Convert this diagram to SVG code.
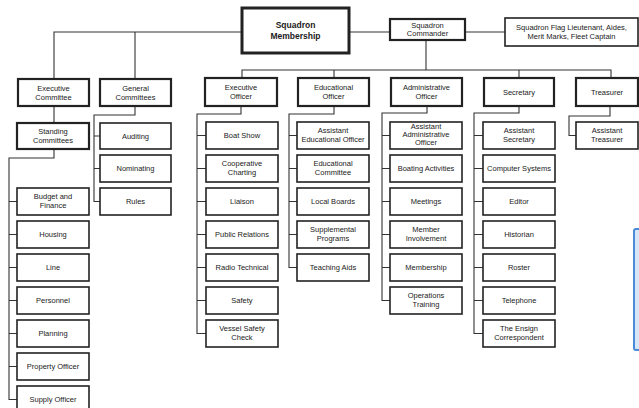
<svg xmlns="http://www.w3.org/2000/svg" width="639" height="408" viewBox="0 0 639 408">
<style>
.b{fill:#fff;stroke:#222;stroke-width:1.6}
.b2{fill:#fff;stroke:#222;stroke-width:2.2}
.t{font-family:"Liberation Sans",Arial,sans-serif;font-size:7.5px;fill:#1a1a1a;text-anchor:middle}
.tb{font-family:"Liberation Sans",Arial,sans-serif;font-size:8.5px;font-weight:bold;fill:#1a1a1a;text-anchor:middle}
.c{fill:none;stroke:#333;stroke-width:1.1}
</style>
<rect width="639" height="408" fill="#fff"/>
<g id="connectors">
<path class="c" d="M349,32H390M465,32H505M242,32H54V78M135,32V78M426,39V70M242,78V70H611V78M334,70V78M519,70V78"/>
<path class="c" d="M54,106V123M54,149V158H9V399.5H17M9,201.5H17M9,234.5H17M9,267.5H17M9,300.5H17M9,333.5H17M9,366.5H17"/>
<path class="c" d="M135,106V115H94V201.5H100M94,136H100M94,168.5H100"/>
<path class="c" d="M241,106V114H197V333.5H206M197,135.5H206M197,168.5H206M197,201.5H206M197,234.5H206M197,267.5H206M197,300.5H206"/>
<path class="c" d="M334,106V114H289V267.5H297M289,135.5H297M289,168.5H297M289,201.5H297M289,234.5H297"/>
<path class="c" d="M427,106V113H382V300.5H390M382,135.5H390M382,168.5H390M382,201.5H390M382,234.5H390M382,267.5H390"/>
<path class="c" d="M519,106V113H474V333.5H483M474,135.5H483M474,168.5H483M474,201.5H483M474,234.5H483M474,267.5H483M474,300.5H483"/>
<path class="c" d="M610,106V116H569V135.5H576"/>
</g>
<g id="membership"><rect x="242" y="8" width="107" height="45" fill="#fff" stroke="#222" stroke-width="3"/><text class="tb" x="295.5" y="28">Squadron</text><text class="tb" x="295.5" y="39">Membership</text></g>
<g id="commander"><rect class="b2" x="390" y="19" width="75" height="21"/><text class="t" x="427.5" y="27.5">Squadron</text><text class="t" x="427.5" y="36">Commander</text></g>
<g id="flag"><rect class="b" x="505" y="18" width="133" height="28"/><text class="t" x="571.5" y="30">Squadron Flag Lieutenant, Aides,</text><text class="t" x="571.5" y="39">Merit Marks, Fleet Captain</text></g>

<g id="exec-committee"><rect class="b2" x="18" y="79" width="71" height="27"/><text class="t" x="53.5" y="90.5">Executive</text><text class="t" x="53.5" y="99.5">Committee</text></g>
<g id="general-committees"><rect class="b2" x="100" y="79" width="71" height="27"/><text class="t" x="135.5" y="90.5">General</text><text class="t" x="135.5" y="99.5">Committees</text></g>
<g id="exec-officer"><rect class="b2" x="205" y="78" width="72" height="28"/><text class="t" x="241" y="90">Executive</text><text class="t" x="241" y="99">Officer</text></g>
<g id="edu-officer"><rect class="b2" x="298" y="78" width="71" height="28"/><text class="t" x="333.5" y="90">Educational</text><text class="t" x="333.5" y="99">Officer</text></g>
<g id="admin-officer"><rect class="b2" x="391" y="78" width="71" height="28"/><text class="t" x="426.5" y="90">Administrative</text><text class="t" x="426.5" y="99">Officer</text></g>
<g id="secretary"><rect class="b2" x="484" y="78" width="70" height="28"/><text class="t" x="519" y="94.5">Secretary</text></g>
<g id="treasurer"><rect class="b2" x="576" y="78" width="62" height="28"/><text class="t" x="607" y="94.5">Treasurer</text></g>

<g id="standing"><rect class="b2" x="17" y="123" width="72" height="26"/><text class="t" x="53" y="134">Standing</text><text class="t" x="53" y="143">Committees</text></g>
<g id="budget"><rect class="b" x="17" y="188" width="72" height="27"/><text class="t" x="53" y="199">Budget and</text><text class="t" x="53" y="208">Finance</text></g>
<g id="housing"><rect class="b" x="17" y="221" width="72" height="27"/><text class="t" x="53" y="237">Housing</text></g>
<g id="line"><rect class="b" x="17" y="254" width="72" height="27"/><text class="t" x="53" y="270">Line</text></g>
<g id="personnel"><rect class="b" x="17" y="287" width="72" height="27"/><text class="t" x="53" y="303">Personnel</text></g>
<g id="planning"><rect class="b" x="17" y="320" width="72" height="27"/><text class="t" x="53" y="336">Planning</text></g>
<g id="property"><rect class="b" x="17" y="353" width="72" height="27"/><text class="t" x="53" y="369">Property Officer</text></g>
<g id="supply"><rect class="b" x="17" y="386" width="72" height="27"/><text class="t" x="53" y="402">Supply Officer</text></g>

<g id="auditing"><rect class="b" x="100" y="123" width="71" height="26"/><text class="t" x="135.5" y="138.5">Auditing</text></g>
<g id="nominating"><rect class="b" x="100" y="155" width="71" height="27"/><text class="t" x="135.5" y="171">Nominating</text></g>
<g id="rules"><rect class="b" x="100" y="188" width="71" height="27"/><text class="t" x="135.5" y="204">Rules</text></g>

<g id="boat-show"><rect class="b" x="206" y="122" width="72" height="27"/><text class="t" x="242" y="138">Boat Show</text></g>
<g id="coop-charting"><rect class="b" x="206" y="155" width="72" height="27"/><text class="t" x="242" y="166">Cooperative</text><text class="t" x="242" y="175">Charting</text></g>
<g id="liaison"><rect class="b" x="206" y="188" width="72" height="27"/><text class="t" x="242" y="204">Liaison</text></g>
<g id="public-relations"><rect class="b" x="206" y="221" width="72" height="27"/><text class="t" x="242" y="237">Public Relations</text></g>
<g id="radio-technical"><rect class="b" x="206" y="254" width="72" height="27"/><text class="t" x="242" y="270">Radio Technical</text></g>
<g id="safety"><rect class="b" x="206" y="287" width="72" height="27"/><text class="t" x="242" y="303">Safety</text></g>
<g id="vessel-safety"><rect class="b" x="206" y="320" width="72" height="27"/><text class="t" x="242" y="331">Vessel Safety</text><text class="t" x="242" y="340">Check</text></g>

<g id="asst-edu"><rect class="b" x="297" y="122" width="72" height="27"/><text class="t" x="333" y="133">Assistant</text><text class="t" x="333" y="142">Educational Officer</text></g>
<g id="edu-committee"><rect class="b" x="297" y="155" width="72" height="27"/><text class="t" x="333" y="166">Educational</text><text class="t" x="333" y="175">Committee</text></g>
<g id="local-boards"><rect class="b" x="297" y="188" width="72" height="27"/><text class="t" x="333" y="204">Local Boards</text></g>
<g id="supplemental"><rect class="b" x="297" y="221" width="72" height="27"/><text class="t" x="333" y="232">Supplemental</text><text class="t" x="333" y="241">Programs</text></g>
<g id="teaching-aids"><rect class="b" x="297" y="254" width="72" height="27"/><text class="t" x="333" y="270">Teaching Aids</text></g>

<g id="asst-admin"><rect class="b" x="390" y="122" width="72" height="27"/><text class="t" x="426" y="129">Assistant</text><text class="t" x="426" y="137">Administrative</text><text class="t" x="426" y="145">Officer</text></g>
<g id="boating"><rect class="b" x="390" y="155" width="72" height="27"/><text class="t" x="426" y="171">Boating Activities</text></g>
<g id="meetings"><rect class="b" x="390" y="188" width="72" height="27"/><text class="t" x="426" y="204">Meetings</text></g>
<g id="member-involvement"><rect class="b" x="390" y="221" width="72" height="27"/><text class="t" x="426" y="232">Member</text><text class="t" x="426" y="241">Involvement</text></g>
<g id="membership-ch"><rect class="b" x="390" y="254" width="72" height="27"/><text class="t" x="426" y="270">Membership</text></g>
<g id="operations"><rect class="b" x="390" y="287" width="72" height="27"/><text class="t" x="426" y="298">Operations</text><text class="t" x="426" y="307">Training</text></g>

<g id="asst-secretary"><rect class="b" x="483" y="122" width="72" height="27"/><text class="t" x="519" y="133">Assistant</text><text class="t" x="519" y="142">Secretary</text></g>
<g id="computer"><rect class="b" x="483" y="155" width="72" height="27"/><text class="t" x="519" y="171">Computer Systems</text></g>
<g id="editor"><rect class="b" x="483" y="188" width="72" height="27"/><text class="t" x="519" y="204">Editor</text></g>
<g id="historian"><rect class="b" x="483" y="221" width="72" height="27"/><text class="t" x="519" y="237">Historian</text></g>
<g id="roster"><rect class="b" x="483" y="254" width="72" height="27"/><text class="t" x="519" y="270">Roster</text></g>
<g id="telephone"><rect class="b" x="483" y="287" width="72" height="27"/><text class="t" x="519" y="303">Telephone</text></g>
<g id="ensign"><rect class="b" x="483" y="320" width="72" height="27"/><text class="t" x="519" y="331">The Ensign</text><text class="t" x="519" y="340">Correspondent</text></g>

<g id="asst-treasurer"><rect class="b" x="576" y="122" width="62" height="27"/><text class="t" x="607" y="133">Assistant</text><text class="t" x="607" y="142">Treasurer</text></g>

<rect x="634" y="229" width="10" height="121" rx="2" fill="#d6e7f8" stroke="#4a8ad8" stroke-width="2"/>
</svg>
